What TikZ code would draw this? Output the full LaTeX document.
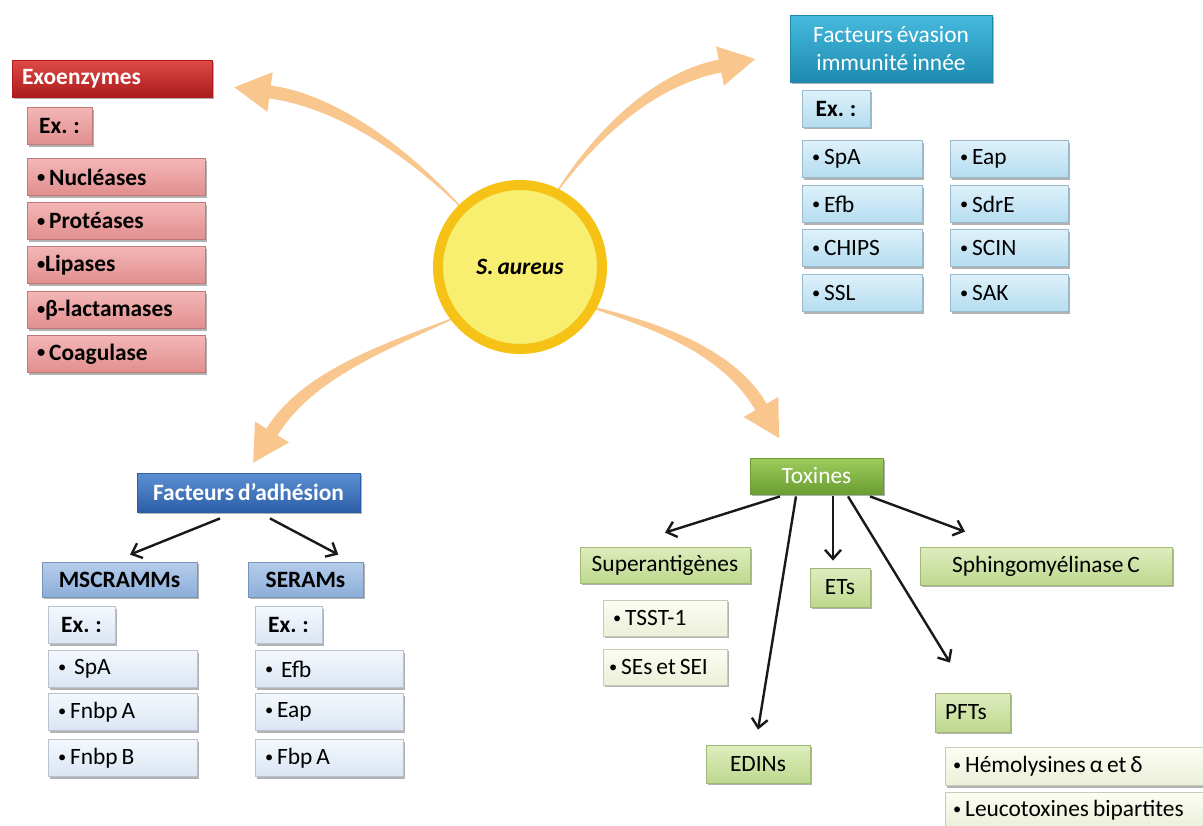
\documentclass[tikz,border=0pt]{standalone}
\usepackage{fontspec}
\usepackage{graphicx}
\setmainfont{Carlito}
\usetikzlibrary{arrows.meta,calc,shadows}

\definecolor{exoTop}{RGB}{222,74,68}
\definecolor{exoBot}{RGB}{172,28,30}
\definecolor{exoLight}{RGB}{243,182,182}
\definecolor{exoDark}{RGB}{226,142,142}
\definecolor{evaTop}{RGB}{70,186,222}
\definecolor{evaBot}{RGB}{30,138,176}
\definecolor{evaLight}{RGB}{222,241,250}
\definecolor{evaDark}{RGB}{180,220,240}
\definecolor{adhTop}{RGB}{92,144,210}
\definecolor{adhBot}{RGB}{44,94,168}
\definecolor{subLight}{RGB}{182,205,235}
\definecolor{subDark}{RGB}{140,174,218}
\definecolor{itmLight}{RGB}{244,248,253}
\definecolor{itmDark}{RGB}{218,229,243}
\definecolor{toxTop}{RGB}{158,204,92}
\definecolor{toxBot}{RGB}{106,158,50}
\definecolor{grnLight}{RGB}{222,237,190}
\definecolor{grnDark}{RGB}{190,216,142}
\definecolor{crmLight}{RGB}{253,253,244}
\definecolor{crmDark}{RGB}{236,239,216}
\definecolor{sunring}{RGB}{246,194,22}
\definecolor{sunfill}{RGB}{248,238,112}
\definecolor{sunray}{RGB}{249,198,142}

% small bullet
\newcommand{\bul}{\raisebox{0.2ex}{\scalebox{0.7}{•}}}

% curved, tapering arrow: start, control 1, control 2, base of the head
\newcommand{\sunarrow}[4]{%
  \fill[sunarrowfill] (#1) .. controls ($(#2)!1.625pt!-90:(#3)$) and ($(#3)!3.25pt!-90:(#4)$) .. ($(#4)!3.25pt!90:(#3)$)
    -- ($(#4)!10pt!90:(#3)$) -- ($(#4)!18pt!180:(#3)$) -- ($(#4)!10pt!-90:(#3)$)
    -- ($(#4)!3.25pt!-90:(#3)$) .. controls ($(#3)!3.25pt!90:(#4)$) and ($(#2)!1.625pt!90:(#3)$) .. (#1) -- cycle;}

\begin{document}
\fontsize{11.7}{14}\selectfont
\begin{tikzpicture}[x=0.5pt,y=-0.5pt,
  every node/.append style={execute at begin node={\spaceskip=2pt plus 1pt minus 0.5pt\relax}},
  boxbase/.style={line width=0.4pt, inner xsep=5pt, inner ysep=2pt,
    drop shadow={shadow xshift=1.2pt,shadow yshift=-1.2pt,opacity=0.3,fill=black}},
  tw/.style={text width=#1, align=left},
  exohead/.style={boxbase, draw=exoBot, top color=exoTop, bottom color=exoBot, text=white, font=\bfseries, minimum height=18.5pt},
  exoitem/.style={boxbase, draw=exoDark!85!black, top color=exoLight, bottom color=exoDark, font=\bfseries, minimum height=18.5pt},
  evahead/.style={boxbase, draw=evaBot, top color=evaTop, bottom color=evaBot, text=white},
  evaitem/.style={boxbase, draw=evaDark!85!black, top color=evaLight, bottom color=evaDark, minimum height=18.5pt},
  adhhead/.style={boxbase, draw=adhBot, top color=adhTop, bottom color=adhBot, text=white, font=\bfseries},
  adhsub/.style={boxbase, draw=subDark!85!black, top color=subLight, bottom color=subDark, font=\bfseries, minimum height=17.5pt},
  adhitem/.style={boxbase, draw=itmDark!85!black, top color=itmLight, bottom color=itmDark, minimum height=18.5pt},
  toxhead/.style={boxbase, draw=toxBot, top color=toxTop, bottom color=toxBot, text=white},
  toxsub/.style={boxbase, draw=grnDark!85!black, top color=grnLight, bottom color=grnDark, minimum height=18pt},
  toxitem/.style={boxbase, draw=crmDark!85!black, top color=crmLight, bottom color=crmDark, minimum height=18pt},
  sunarrowfill/.style={fill=sunray},
  blkarrow/.style={-{Straight Barb[length=4.5pt,width=8pt]}, line width=1.2pt, black!90}]

\useasboundingbox (0,0) rectangle (1203,825);
\fill[white] (0,0) rectangle (1203,825);

% S. aureus and the four big arrows
\sunarrow{475,222}{405,145}{330,100}{270,92}
\sunarrow{548,205}{590,140}{650,80}{720,66}
\sunarrow{468,312}{400,342}{310,370}{272,432}
\sunarrow{565,300}{640,320}{725,345}{761,407}
\node[circle, minimum size=82pt, line width=5pt, draw=sunring, fill=sunfill, font=\bfseries\itshape] (sa) at (520,267) {S. aureus};

% Exoenzymes
\node[exohead, tw=90pt] (exo) at (112,78.5) {Exoenzymes};
\node[exoitem, minimum width=32.5pt] (exoex) at (59.5,126) {Ex. :};
\node[exoitem, tw=79pt] (nuc) at (116,177) {\bul\ Nucléases};
\node[exoitem, tw=79pt] (pro) at (116,221) {\bul\ Protéases};
\node[exoitem, tw=79pt] (lip) at (116,265) {\bul Lipases};
\node[exoitem, tw=79pt] (bla) at (116,310) {\bul β-lactamases};
\node[exoitem, tw=79pt] (coa) at (116,354) {\bul\ Coagulase};

% Facteurs evasion immunite innee
\node[evahead, align=center, minimum width=101pt, minimum height=33.5pt] (eva) at (891,48.5) {Facteurs évasion\\immunité innée};
\node[evaitem, minimum width=34pt, font=\bfseries] (evaex) at (836,108.5) {Ex. :};
\node[evaitem, tw=50pt] (spa) at (862,159) {\bul\ SpA};
\node[evaitem, tw=50pt] (efb) at (862,204) {\bul\ Efb};
\node[evaitem, tw=50pt] (chips) at (862,248) {\bul\ CHIPS};
\node[evaitem, tw=50pt] (ssl) at (862,293) {\bul\ SSL};
\node[evaitem, tw=49pt] (eap) at (1009,159) {\bul\ Eap};
\node[evaitem, tw=49pt] (sdre) at (1009,204) {\bul\ SdrE};
\node[evaitem, tw=49pt] (scin) at (1009,248) {\bul\ SCIN};
\node[evaitem, tw=49pt] (sak) at (1009,293) {\bul\ SAK};

% Facteurs d'adhesion
\node[adhhead, minimum width=111.5pt, minimum height=19.5pt] (adh) at (248.5,492.5) {Facteurs d’adhésion};
\node[adhsub, minimum width=77.5pt] (msc) at (119.5,579.5) {MSCRAMMs};
\node[adhsub, minimum width=57.5pt] (ser) at (305.5,579.5) {SERAMs};
\node[adhitem, minimum width=33.5pt, font=\bfseries] (mscex) at (81.5,625) {Ex. :};
\node[adhitem, tw=64.5pt] (mspa) at (122.5,669) {\bul\ \ SpA};
\node[adhitem, tw=64.5pt] (fnbpa) at (122.5,712) {\bul\ Fnbp A};
\node[adhitem, tw=64.5pt] (fnbpb) at (122.5,758) {\bul\ Fnbp B};
\node[adhitem, minimum width=33.5pt, font=\bfseries] (serex) at (288.5,625) {Ex. :};
\node[adhitem, tw=64pt] (sefb) at (329,669) {\bul\ \ Efb};
\node[adhitem, tw=64pt] (seap) at (329,712) {\bul\ Eap};
\node[adhitem, tw=64pt] (fbpa) at (329,758) {\bul\ Fbp A};

\draw[blkarrow] ([shift={(-28.5,6)}]adh.south) -- ([shift={(10.5,-7)}]msc.north);
\draw[blkarrow] ([shift={(21.5,6)}]adh.south) -- ([shift={(32.8,-7)}]ser.north);

% Toxines
\node[toxhead, minimum width=66.5pt, minimum height=18pt] (tox) at (816.5,476) {Toxines};
\node[toxsub, minimum width=85pt] (sag) at (665,565) {Superantigènes};
\node[toxitem, tw=52pt] (tsst) at (665,618) {\bul\ TSST-1};
\node[toxitem, tw=56pt, inner xsep=3pt] (ses) at (665,667) {\bul\ SEs et SEI};
\node[toxsub, minimum width=30pt, minimum height=19.5pt] (ets) at (840,587.5) {ETs};
\node[toxsub, minimum width=126pt, minimum height=19pt] (sph) at (1046,566) {Sphingomyélinase C};
\node[toxsub, minimum width=52pt, minimum height=19pt] (edin) at (758,764) {EDINs};
\node[toxsub, tw=27.5pt, minimum height=19.5pt] (pft) at (972.5,712.5) {PFTs};
\node[toxitem, tw=122pt, inner xsep=4pt, minimum height=19pt] (hem) at (1075,766.5) {\bul\ Hémolysines α et δ};
\node[toxitem, tw=122pt, inner xsep=4pt] (leu) at (1075,810) {\bul\ Leucotoxines bipartites};

\draw[blkarrow] ([shift={(-36.5,2)}]tox.south) -- ([shift={(0,-14)}]sag.north);
\draw[blkarrow] ([shift={(-20.5,2)}]tox.south) -- ([shift={(0,-15)}]edin.north);
\draw[blkarrow] ([shift={(16.5,2)}]tox.south) -- ([shift={(-7,-7)}]ets.north);
\draw[blkarrow] ([shift={(31.5,2)}]tox.south) -- ([shift={(-22.5,-30)}]pft.north);
\draw[blkarrow] ([shift={(53.5,2)}]tox.south) -- ([shift={(-81,-15)}]sph.north);
\end{tikzpicture}
\end{document}
